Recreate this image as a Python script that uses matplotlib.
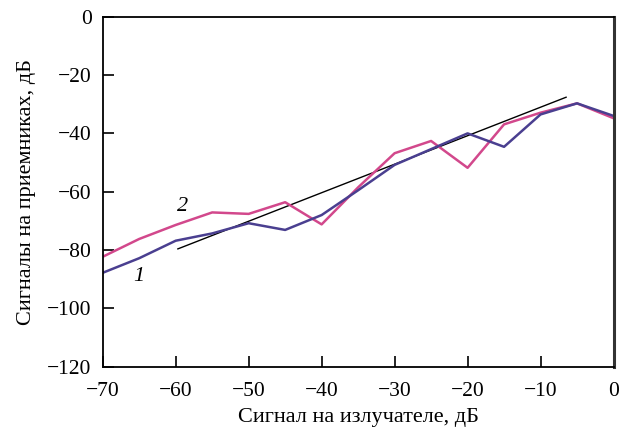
import numpy as np
import matplotlib.pyplot as plt

plt.rcParams['font.family'] = ['Liberation Serif', 'DejaVu Serif']
plt.rcParams['mathtext.fontset'] = 'stix'

# signal at emitter, dB
x_sig = [-70, -65, -60, -55, -50, -45, -40, -35, -30, -25, -20, -15, -10, -5, 0]
# curve 1 (blue)
y_1 = [-87.8, -82.8, -76.8, -74.3, -70.8, -73.1, -68.0, -59.5, -50.8, -45.4, -40.0, -44.6, -33.5, -29.7, -34.0]
# curve 2 (pink)
y_2 = [-82.3, -76.2, -71.4, -67.1, -67.6, -63.6, -71.2, -58.5, -46.8, -42.6, -51.8, -36.9, -32.9, -29.7, -34.8]
# straight fit line
x_fit = [-59.7, -6.5]
y_fit = [-79.6, -27.6]

xticks = [-70, -60, -50, -40, -30, -20, -10, 0]
yticks = [0, -20, -40, -60, -80, -100, -120]

fig = plt.figure(figsize=(6.29, 4.29), dpi=100)
ax = fig.add_axes([0.1633, 0.1452, 0.8121, 0.8158])

ax.plot(x_fit, y_fit, color='black', lw=1.0)
ax.plot(x_sig, y_2, color='#D2488C', lw=1.8)
ax.plot(x_sig, y_1, color='#4A3F90', lw=1.8)

ax.text(-65.1, -89.1, '1', fontsize=16, style='italic', ha='center', va='center')
ax.text(-59.0, -65.0, '2', fontsize=16, style='italic', ha='center', va='center')

ax.set_xlim(-70, 0)
ax.set_ylim(-120, 0)
ax.set_xticks(xticks)
ax.set_yticks(yticks)
ax.set_xticklabels(['\u2212%d' % -v if v < 0 else '%d' % v for v in xticks])
ax.set_yticklabels(['\u2212%d' % -v if v < 0 else '%d' % v for v in yticks])
ax.tick_params(direction='in', length=8, width=1.2, labelsize=15.5,
               top=False, right=False)
ax.tick_params(axis='x', pad=11)
ax.tick_params(axis='y', pad=8)

for s in ['left', 'bottom', 'top']:
    ax.spines[s].set_linewidth(1.3)
ax.spines['right'].set_linewidth(2.2)
ax.spines['right'].set_color('#333333')

ax.set_xlabel('Сигнал на излучателе, дБ', fontsize=16, labelpad=5)
ax.set_ylabel('Сигналы на приемниках, дБ', fontsize=16, labelpad=8)

fig.savefig('out.png', dpi=100)
